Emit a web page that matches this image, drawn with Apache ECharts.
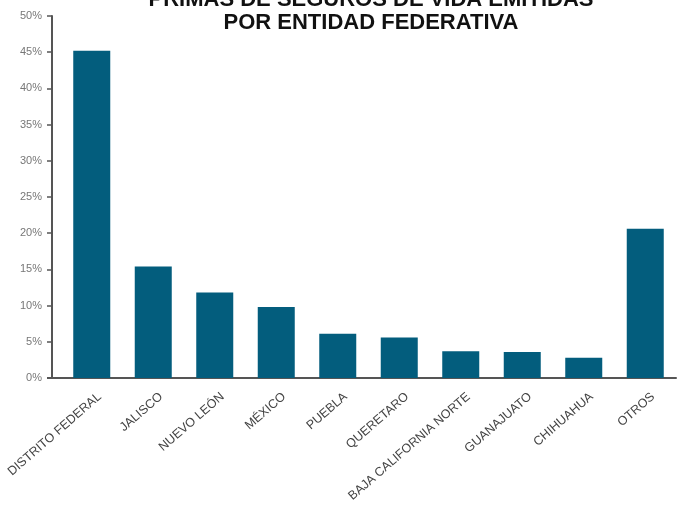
<!DOCTYPE html>
<html>
<head>
<meta charset="utf-8">
<script src="https://cdn.jsdelivr.net/npm/echarts@6/dist/echarts.min.js"></script>
<style>html,body{margin:0;padding:0;background:#fff;}#c{width:677px;height:507px;}</style>
</head>
<body>
<div id="c"></div>
<script>
var categories = ['DISTRITO FEDERAL','JALISCO','NUEVO LEÓN','MÉXICO','PUEBLA','QUERETARO','BAJA CALIFORNIA NORTE','GUANAJUATO','CHIHUAHUA','OTROS'];
var values = [45.2, 15.4, 11.8, 9.8, 6.1, 5.6, 3.7, 3.6, 2.8, 20.6];
var titleLines = ['PRIMAS DE SEGUROS DE VIDA EMITIDAS', 'POR ENTIDAD FEDERATIVA'];

var chart = echarts.init(document.getElementById('c'));
chart.setOption({
  animation: false,
  backgroundColor: '#fff',
  title: {
    text: titleLines.join('\n'),
    left: 371,
    textAlign: 'center',
    top: -12,
    padding: 0,
    textStyle: {fontFamily: 'Liberation Sans', fontWeight: 'bold', fontSize: 22, lineHeight: 23, color: '#111'}
  },
  grid: {left: 61, right: 1, top: 16, bottom: 129, outerBoundsMode: 'none', containLabel: false},
  xAxis: {
    type: 'category',
    data: categories,
    axisLine: {lineStyle: {color: '#555', width: 2}},
    axisTick: {show: false},
    axisLabel: {rotate: 41, interval: 0, margin: 8, verticalAlign: 'top', lineHeight: 24, color: '#444', fontFamily: 'Liberation Sans', fontSize: 12.5}
  },
  yAxis: {
    type: 'value',
    min: 0, max: 50, interval: 5,
    offset: 9,
    splitLine: {show: false},
    axisLine: {show: true, lineStyle: {color: '#555', width: 2}},
    axisTick: {show: true, length: 5, lineStyle: {color: '#555', width: 1.5}},
    axisLabel: {formatter: '{value}%', color: '#777', fontFamily: 'Liberation Sans', fontSize: 11, margin: 10}
  },
  series: [{
    type: 'bar',
    data: values,
    barWidth: 37,
    itemStyle: {color: '#035d7d'}
  }]
});
// extend the x axis baseline leftwards to meet the (offset) y axis line
var y0 = chart.convertToPixel({yAxisIndex: 0}, 0);
chart.setOption({
  graphic: [{
    type: 'line',
    shape: {x1: 47, y1: y0, x2: 62, y2: y0},
    style: {stroke: '#555', lineWidth: 2}
  }]
});
</script>
</body>
</html>
